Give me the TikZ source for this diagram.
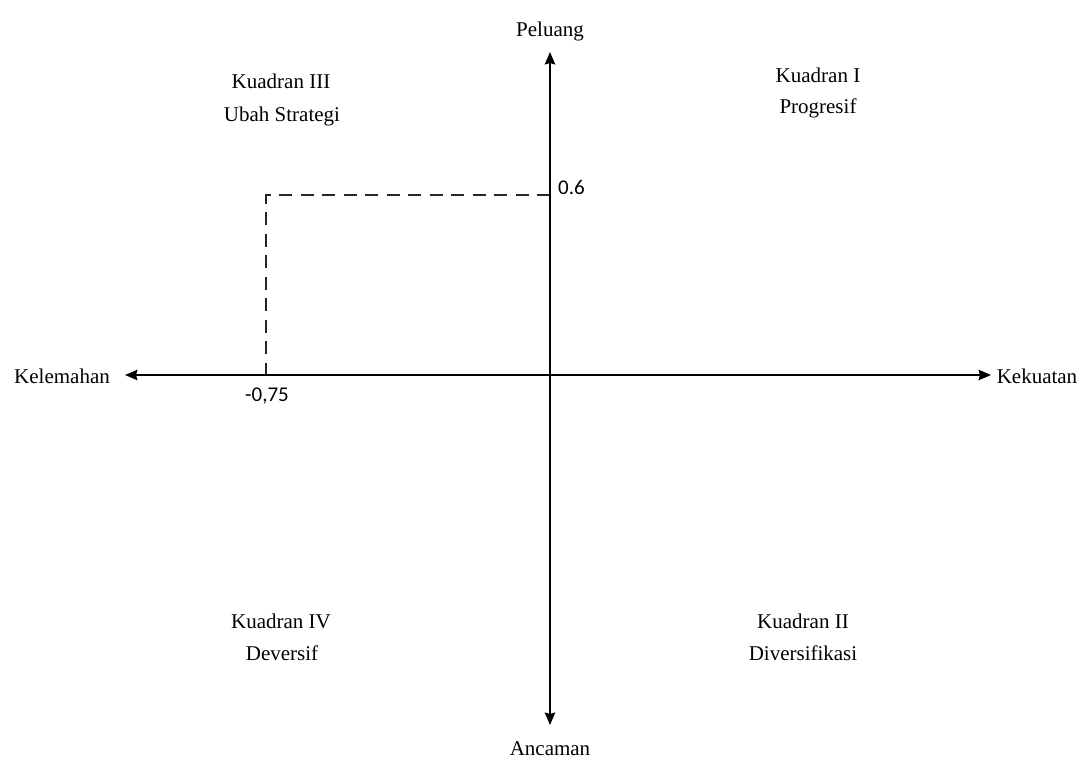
\documentclass[tikz,border=0pt]{standalone}
\usepackage{fontspec}
\setmainfont{Liberation Serif}
\newfontfamily\numfont{Carlito}
\usetikzlibrary{arrows.meta}
\begin{document}
\begin{tikzpicture}[x=1pt,y=-1pt,
  tip/.tip={Stealth[length=12.5pt,width=10.5pt,inset=1.5pt]},
  axis/.style={line width=1.4pt, tip-tip},
  guide/.style={line width=1.8pt, dash pattern=on 13pt off 8.5pt, black!85},
  lbl/.style={font=\fontsize{21}{32}\selectfont, inner sep=0pt, anchor=base},
  num/.style={font=\numfont\fontsize{21}{25}\selectfont, inner sep=0pt, anchor=base}]
\useasboundingbox (0,0) rectangle (1080,758);
\fill[white] (0,0) rectangle (1080,758);

% axis end points
\coordinate (top) at (550,52);
\coordinate (bot) at (550,725);
\coordinate (lft) at (125,375);
\coordinate (rgt) at (991,375);

% dashed guide
\coordinate (p06) at (550,195);
\coordinate (corner) at (266,195);
\coordinate (m075) at (266,375);
\draw[guide] (p06) -- (corner) -- (m075);

% axes
\draw[axis] (bot) -- (top);
\draw[axis] (lft) -- (rgt);

% axis labels
\node[lbl] (peluang) at (550,36) {Peluang};
\node[lbl] (ancaman) at (550,755) {Ancaman};
\node[lbl] (kelemahan) at (62,383) {Kelemahan};
\node[lbl] (kekuatan) at (1037,383) {Kekuatan};

% values
\node[num, anchor=base west] (v06) at (558,194) {0.6};
\node[num] (v075) at (267,401) {-0,75};

% quadrant labels
\node[lbl] (q3a) at (281,88) {Kuadran III};
\node[lbl] (q3b) at (282,121) {Ubah Strategi};
\node[lbl] (q1a) at (818,82) {Kuadran I};
\node[lbl] (q1b) at (818,113) {Progresif};
\node[lbl] (q4a) at (281,628) {Kuadran IV};
\node[lbl] (q4b) at (282,660) {Deversif};
\node[lbl] (q2a) at (803,628) {Kuadran II};
\node[lbl] (q2b) at (803,660) {Diversifikasi};
\end{tikzpicture}
\end{document}
